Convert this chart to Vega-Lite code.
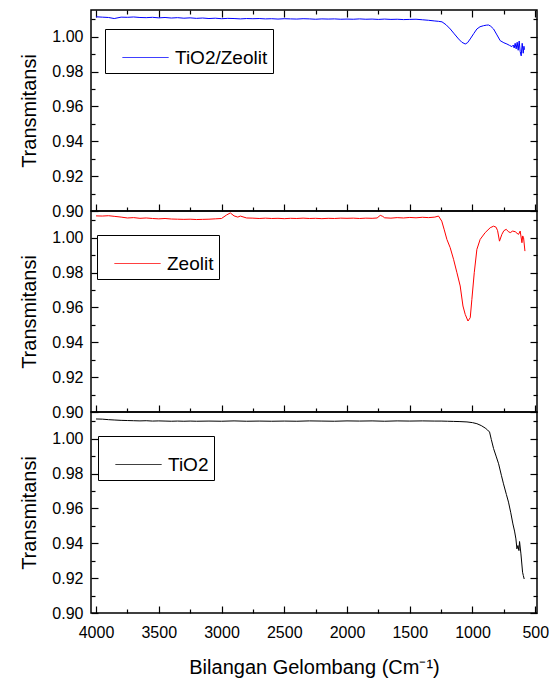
{
"$schema": "https://vega.github.io/schema/vega-lite/v6.json",
"padding": {"left": 18, "top": 8, "right": 5, "bottom": 5},
"bounds": "flush",
"spacing": 0,
"datasets": {
"a": [
{"s":"TiO2/Zeolit","w":4000,"t":1.0114},{"s":"TiO2/Zeolit","w":3950,"t":1.0112},{"s":"TiO2/Zeolit","w":3900,"t":1.0110},{"s":"TiO2/Zeolit","w":3855,"t":1.0104},{"s":"TiO2/Zeolit","w":3800,"t":1.0112},{"s":"TiO2/Zeolit","w":3750,"t":1.0111},{"s":"TiO2/Zeolit","w":3700,"t":1.0113},{"s":"TiO2/Zeolit","w":3650,"t":1.0110},{"s":"TiO2/Zeolit","w":3600,"t":1.0109},{"s":"TiO2/Zeolit","w":3550,"t":1.0111},{"s":"TiO2/Zeolit","w":3500,"t":1.0108},{"s":"TiO2/Zeolit","w":3450,"t":1.0110},{"s":"TiO2/Zeolit","w":3400,"t":1.0107},{"s":"TiO2/Zeolit","w":3350,"t":1.0109},{"s":"TiO2/Zeolit","w":3300,"t":1.0106},{"s":"TiO2/Zeolit","w":3250,"t":1.0108},{"s":"TiO2/Zeolit","w":3200,"t":1.0105},{"s":"TiO2/Zeolit","w":3150,"t":1.0107},{"s":"TiO2/Zeolit","w":3100,"t":1.0104},{"s":"TiO2/Zeolit","w":3050,"t":1.0106},{"s":"TiO2/Zeolit","w":3000,"t":1.0103},{"s":"TiO2/Zeolit","w":2950,"t":1.0105},{"s":"TiO2/Zeolit","w":2900,"t":1.0104},{"s":"TiO2/Zeolit","w":2850,"t":1.0102},{"s":"TiO2/Zeolit","w":2800,"t":1.0104},{"s":"TiO2/Zeolit","w":2750,"t":1.0103},{"s":"TiO2/Zeolit","w":2700,"t":1.0104},{"s":"TiO2/Zeolit","w":2650,"t":1.0102},{"s":"TiO2/Zeolit","w":2600,"t":1.0103},{"s":"TiO2/Zeolit","w":2550,"t":1.0101},{"s":"TiO2/Zeolit","w":2500,"t":1.0103},{"s":"TiO2/Zeolit","w":2450,"t":1.0102},{"s":"TiO2/Zeolit","w":2400,"t":1.0101},{"s":"TiO2/Zeolit","w":2350,"t":1.0103},{"s":"TiO2/Zeolit","w":2300,"t":1.0102},{"s":"TiO2/Zeolit","w":2250,"t":1.0100},{"s":"TiO2/Zeolit","w":2200,"t":1.0102},{"s":"TiO2/Zeolit","w":2150,"t":1.0101},{"s":"TiO2/Zeolit","w":2100,"t":1.0102},{"s":"TiO2/Zeolit","w":2050,"t":1.0100},{"s":"TiO2/Zeolit","w":2000,"t":1.0101},{"s":"TiO2/Zeolit","w":1950,"t":1.0100},{"s":"TiO2/Zeolit","w":1900,"t":1.0102},{"s":"TiO2/Zeolit","w":1850,"t":1.0100},{"s":"TiO2/Zeolit","w":1800,"t":1.0101},{"s":"TiO2/Zeolit","w":1750,"t":1.0099},{"s":"TiO2/Zeolit","w":1700,"t":1.0101},{"s":"TiO2/Zeolit","w":1650,"t":1.0099},{"s":"TiO2/Zeolit","w":1600,"t":1.0100},{"s":"TiO2/Zeolit","w":1550,"t":1.0098},{"s":"TiO2/Zeolit","w":1500,"t":1.0099},{"s":"TiO2/Zeolit","w":1450,"t":1.0100},{"s":"TiO2/Zeolit","w":1400,"t":1.0097},{"s":"TiO2/Zeolit","w":1350,"t":1.0094},{"s":"TiO2/Zeolit","w":1300,"t":1.0090},{"s":"TiO2/Zeolit","w":1270,"t":1.0088},{"s":"TiO2/Zeolit","w":1243,"t":1.0085},{"s":"TiO2/Zeolit","w":1210,"t":1.0068},{"s":"TiO2/Zeolit","w":1177,"t":1.0044},{"s":"TiO2/Zeolit","w":1145,"t":1.0016},{"s":"TiO2/Zeolit","w":1111,"t":0.9987},{"s":"TiO2/Zeolit","w":1085,"t":0.9968},{"s":"TiO2/Zeolit","w":1058,"t":0.9958},{"s":"TiO2/Zeolit","w":1040,"t":0.9965},{"s":"TiO2/Zeolit","w":1018,"t":0.9987},{"s":"TiO2/Zeolit","w":990,"t":1.0018},{"s":"TiO2/Zeolit","w":965,"t":1.0044},{"s":"TiO2/Zeolit","w":940,"t":1.0057},{"s":"TiO2/Zeolit","w":912,"t":1.0063},{"s":"TiO2/Zeolit","w":890,"t":1.0066},{"s":"TiO2/Zeolit","w":872,"t":1.0067},{"s":"TiO2/Zeolit","w":855,"t":1.0060},{"s":"TiO2/Zeolit","w":832,"t":1.0044},{"s":"TiO2/Zeolit","w":805,"t":1.0010},{"s":"TiO2/Zeolit","w":779,"t":0.9977},{"s":"TiO2/Zeolit","w":750,"t":0.9965},{"s":"TiO2/Zeolit","w":726,"t":0.9958},{"s":"TiO2/Zeolit","w":705,"t":0.9950},{"s":"TiO2/Zeolit","w":686,"t":0.9943},{"s":"TiO2/Zeolit","w":675,"t":0.9952},{"s":"TiO2/Zeolit","w":668,"t":0.9935},{"s":"TiO2/Zeolit","w":660,"t":0.9962},{"s":"TiO2/Zeolit","w":652,"t":0.9930},{"s":"TiO2/Zeolit","w":644,"t":0.9968},{"s":"TiO2/Zeolit","w":636,"t":0.9922},{"s":"TiO2/Zeolit","w":628,"t":0.9975},{"s":"TiO2/Zeolit","w":620,"t":0.9915},{"s":"TiO2/Zeolit","w":612,"t":0.9890},{"s":"TiO2/Zeolit","w":604,"t":0.9962},{"s":"TiO2/Zeolit","w":596,"t":0.9905},{"s":"TiO2/Zeolit","w":590,"t":0.9945},{"s":"TiO2/Zeolit","w":586,"t":0.9925}
],
"b": [
{"s":"Zeolit","w":4000,"t":1.0125},{"s":"Zeolit","w":3950,"t":1.0124},{"s":"Zeolit","w":3900,"t":1.0126},{"s":"Zeolit","w":3850,"t":1.0122},{"s":"Zeolit","w":3800,"t":1.0118},{"s":"Zeolit","w":3750,"t":1.0113},{"s":"Zeolit","w":3700,"t":1.0115},{"s":"Zeolit","w":3650,"t":1.0111},{"s":"Zeolit","w":3600,"t":1.0113},{"s":"Zeolit","w":3550,"t":1.0110},{"s":"Zeolit","w":3500,"t":1.0108},{"s":"Zeolit","w":3450,"t":1.0110},{"s":"Zeolit","w":3400,"t":1.0107},{"s":"Zeolit","w":3350,"t":1.0106},{"s":"Zeolit","w":3300,"t":1.0105},{"s":"Zeolit","w":3250,"t":1.0106},{"s":"Zeolit","w":3200,"t":1.0104},{"s":"Zeolit","w":3150,"t":1.0105},{"s":"Zeolit","w":3100,"t":1.0106},{"s":"Zeolit","w":3050,"t":1.0108},{"s":"Zeolit","w":3000,"t":1.0110},{"s":"Zeolit","w":2960,"t":1.0130},{"s":"Zeolit","w":2930,"t":1.0142},{"s":"Zeolit","w":2900,"t":1.0125},{"s":"Zeolit","w":2870,"t":1.0118},{"s":"Zeolit","w":2850,"t":1.0124},{"s":"Zeolit","w":2800,"t":1.0113},{"s":"Zeolit","w":2750,"t":1.0112},{"s":"Zeolit","w":2700,"t":1.0110},{"s":"Zeolit","w":2650,"t":1.0112},{"s":"Zeolit","w":2600,"t":1.0110},{"s":"Zeolit","w":2550,"t":1.0111},{"s":"Zeolit","w":2500,"t":1.0109},{"s":"Zeolit","w":2450,"t":1.0111},{"s":"Zeolit","w":2400,"t":1.0110},{"s":"Zeolit","w":2350,"t":1.0112},{"s":"Zeolit","w":2300,"t":1.0110},{"s":"Zeolit","w":2250,"t":1.0111},{"s":"Zeolit","w":2200,"t":1.0109},{"s":"Zeolit","w":2150,"t":1.0111},{"s":"Zeolit","w":2100,"t":1.0110},{"s":"Zeolit","w":2050,"t":1.0112},{"s":"Zeolit","w":2000,"t":1.0111},{"s":"Zeolit","w":1950,"t":1.0112},{"s":"Zeolit","w":1900,"t":1.0110},{"s":"Zeolit","w":1850,"t":1.0112},{"s":"Zeolit","w":1800,"t":1.0111},{"s":"Zeolit","w":1760,"t":1.0113},{"s":"Zeolit","w":1735,"t":1.0128},{"s":"Zeolit","w":1715,"t":1.0122},{"s":"Zeolit","w":1700,"t":1.0114},{"s":"Zeolit","w":1650,"t":1.0112},{"s":"Zeolit","w":1600,"t":1.0115},{"s":"Zeolit","w":1550,"t":1.0113},{"s":"Zeolit","w":1500,"t":1.0116},{"s":"Zeolit","w":1450,"t":1.0114},{"s":"Zeolit","w":1400,"t":1.0117},{"s":"Zeolit","w":1350,"t":1.0115},{"s":"Zeolit","w":1300,"t":1.0118},{"s":"Zeolit","w":1271,"t":1.0124},{"s":"Zeolit","w":1245,"t":1.0095},{"s":"Zeolit","w":1225,"t":1.0045},{"s":"Zeolit","w":1204,"t":0.9990},{"s":"Zeolit","w":1178,"t":0.9943},{"s":"Zeolit","w":1151,"t":0.9876},{"s":"Zeolit","w":1124,"t":0.9799},{"s":"Zeolit","w":1098,"t":0.9723},{"s":"Zeolit","w":1076,"t":0.9608},{"s":"Zeolit","w":1058,"t":0.9560},{"s":"Zeolit","w":1036,"t":0.9522},{"s":"Zeolit","w":1018,"t":0.9541},{"s":"Zeolit","w":1005,"t":0.9646},{"s":"Zeolit","w":986,"t":0.9799},{"s":"Zeolit","w":965,"t":0.9933},{"s":"Zeolit","w":939,"t":0.9990},{"s":"Zeolit","w":899,"t":1.0029},{"s":"Zeolit","w":859,"t":1.0057},{"s":"Zeolit","w":832,"t":1.0066},{"s":"Zeolit","w":812,"t":1.0060},{"s":"Zeolit","w":800,"t":1.0040},{"s":"Zeolit","w":785,"t":0.9980},{"s":"Zeolit","w":766,"t":1.0019},{"s":"Zeolit","w":750,"t":1.0040},{"s":"Zeolit","w":731,"t":1.0048},{"s":"Zeolit","w":715,"t":1.0035},{"s":"Zeolit","w":699,"t":1.0029},{"s":"Zeolit","w":680,"t":1.0038},{"s":"Zeolit","w":659,"t":1.0034},{"s":"Zeolit","w":645,"t":1.0025},{"s":"Zeolit","w":633,"t":1.0019},{"s":"Zeolit","w":620,"t":1.0038},{"s":"Zeolit","w":606,"t":0.9971},{"s":"Zeolit","w":600,"t":1.0010},{"s":"Zeolit","w":593,"t":1.0000},{"s":"Zeolit","w":582,"t":0.9923}
],
"c": [
{"s":"TiO2","w":4000,"t":1.0113},{"s":"TiO2","w":3950,"t":1.0112},{"s":"TiO2","w":3900,"t":1.0109},{"s":"TiO2","w":3850,"t":1.0107},{"s":"TiO2","w":3800,"t":1.0105},{"s":"TiO2","w":3750,"t":1.0104},{"s":"TiO2","w":3700,"t":1.0103},{"s":"TiO2","w":3650,"t":1.0102},{"s":"TiO2","w":3600,"t":1.0103},{"s":"TiO2","w":3550,"t":1.0101},{"s":"TiO2","w":3500,"t":1.0102},{"s":"TiO2","w":3450,"t":1.0101},{"s":"TiO2","w":3400,"t":1.0100},{"s":"TiO2","w":3350,"t":1.0101},{"s":"TiO2","w":3300,"t":1.0100},{"s":"TiO2","w":3250,"t":1.0101},{"s":"TiO2","w":3200,"t":1.0100},{"s":"TiO2","w":3100,"t":1.0101},{"s":"TiO2","w":3000,"t":1.0100},{"s":"TiO2","w":2900,"t":1.0102},{"s":"TiO2","w":2800,"t":1.0100},{"s":"TiO2","w":2700,"t":1.0101},{"s":"TiO2","w":2600,"t":1.0100},{"s":"TiO2","w":2500,"t":1.0101},{"s":"TiO2","w":2400,"t":1.0100},{"s":"TiO2","w":2300,"t":1.0102},{"s":"TiO2","w":2200,"t":1.0101},{"s":"TiO2","w":2100,"t":1.0100},{"s":"TiO2","w":2000,"t":1.0102},{"s":"TiO2","w":1900,"t":1.0101},{"s":"TiO2","w":1800,"t":1.0102},{"s":"TiO2","w":1700,"t":1.0100},{"s":"TiO2","w":1600,"t":1.0102},{"s":"TiO2","w":1500,"t":1.0101},{"s":"TiO2","w":1400,"t":1.0102},{"s":"TiO2","w":1300,"t":1.0101},{"s":"TiO2","w":1250,"t":1.0101},{"s":"TiO2","w":1200,"t":1.0100},{"s":"TiO2","w":1150,"t":1.0099},{"s":"TiO2","w":1100,"t":1.0098},{"s":"TiO2","w":1044,"t":1.0096},{"s":"TiO2","w":1000,"t":1.0092},{"s":"TiO2","w":965,"t":1.0086},{"s":"TiO2","w":930,"t":1.0075},{"s":"TiO2","w":899,"t":1.0061},{"s":"TiO2","w":880,"t":1.0050},{"s":"TiO2","w":864,"t":1.0038},{"s":"TiO2","w":850,"t":0.9995},{"s":"TiO2","w":832,"t":0.9943},{"s":"TiO2","w":812,"t":0.9900},{"s":"TiO2","w":792,"t":0.9856},{"s":"TiO2","w":770,"t":0.9790},{"s":"TiO2","w":753,"t":0.9741},{"s":"TiO2","w":730,"t":0.9680},{"s":"TiO2","w":713,"t":0.9636},{"s":"TiO2","w":695,"t":0.9575},{"s":"TiO2","w":678,"t":0.9511},{"s":"TiO2","w":665,"t":0.9470},{"s":"TiO2","w":654,"t":0.9425},{"s":"TiO2","w":646,"t":0.9368},{"s":"TiO2","w":638,"t":0.9387},{"s":"TiO2","w":630,"t":0.9358},{"s":"TiO2","w":625,"t":0.9410},{"s":"TiO2","w":614,"t":0.9339},{"s":"TiO2","w":601,"t":0.9234},{"s":"TiO2","w":595,"t":0.9215},{"s":"TiO2","w":588,"t":0.9195}
]
},
"vconcat": [
{
"width": 446, "height": 201,
"data": {"name": "a"},
"layer": [
{"mark": {"type": "line", "strokeWidth": 1},
 "encoding": {
  "x": {"field": "w", "type": "quantitative", "scale": {"domain": [4040, 486], "nice": false, "zero": false},
        "axis": {"orient": "bottom", "values": [4000,3750,3500,3250,3000,2750,2500,2250,2000,1750,1500,1250,1000,750,500], "labels": false, "title": null,
                 "tickDash": {"condition": {"test": "datum.value % 500 == 0", "value": [7, 0]}, "value": [4, 20]}}},
  "y": {"field": "t", "type": "quantitative", "scale": {"domain": [0.9, 1.0153], "nice": false, "zero": false},
        "axis": {"orient": "left", "values": [0.9,0.91,0.92,0.93,0.94,0.95,0.96,0.97,0.98,0.99,1.0,1.01],
                 "labelExpr": "round(datum.value*100)%2==0 ? format(datum.value,'.2f') : ''",
                 "tickDash": {"condition": {"test": "round(datum.value*100)%2==0", "value": [7, 0]}, "value": [4, 20]},
                 "labelPadding": 15, "title": "Transmitansi", "titleX": -56, "titleBaseline": "alphabetic"}},
  "color": {"field": "s", "type": "nominal", "scale": {"range": ["#0000ff"]},
            "legend": {"orient": "none", "legendX": 14, "legendY": 19,
                       "encode": {"symbols": {"update": {"stroke": {"value": "#0000ff"}, "strokeOpacity": {"value": 1}, "strokeDash": {"value": [1, 0]}}}}}}
 }},
{"mark": {"type": "line", "strokeOpacity": 0},
 "encoding": {
  "x": {"field": "w", "type": "quantitative", "scale": {"domain": [4040, 486], "nice": false, "zero": false},
        "axis": {"orient": "top", "values": [4000,3750,3500,3250,3000,2750,2500,2250,2000,1750,1500,1250,1000,750,500], "labels": false, "title": null,
                 "tickDash": {"condition": {"test": "datum.value % 500 == 0", "value": [7, 0]}, "value": [4, 20]}}},
  "y": {"field": "t", "type": "quantitative", "scale": {"domain": [0.9, 1.0153], "nice": false, "zero": false},
        "axis": {"orient": "right", "values": [0.9,0.91,0.92,0.93,0.94,0.95,0.96,0.97,0.98,0.99,1.0,1.01], "labels": false, "title": null,
                 "tickDash": {"condition": {"test": "round(datum.value*100)%2==0", "value": [7, 0]}, "value": [4, 20]}}}
 }}
],
"resolve": {"axis": {"x": "independent", "y": "independent"}}
},
{
"width": 446, "height": 201,
"data": {"name": "b"},
"layer": [
{"mark": {"type": "line", "strokeWidth": 1},
 "encoding": {
  "x": {"field": "w", "type": "quantitative", "scale": {"domain": [4040, 486], "nice": false, "zero": false},
        "axis": {"orient": "bottom", "values": [4000,3750,3500,3250,3000,2750,2500,2250,2000,1750,1500,1250,1000,750,500], "labels": false, "title": null,
                 "tickDash": {"condition": {"test": "datum.value % 500 == 0", "value": [7, 0]}, "value": [4, 20]}}},
  "y": {"field": "t", "type": "quantitative", "scale": {"domain": [0.9, 1.0153], "nice": false, "zero": false},
        "axis": {"orient": "left", "values": [0.9,0.91,0.92,0.93,0.94,0.95,0.96,0.97,0.98,0.99,1.0,1.01],
                 "labelExpr": "round(datum.value*100)%2==0 ? format(datum.value,'.2f') : ''",
                 "tickDash": {"condition": {"test": "round(datum.value*100)%2==0", "value": [7, 0]}, "value": [4, 20]},
                 "labelPadding": 15, "title": "Transmitansi", "titleX": -56, "titleBaseline": "alphabetic"}},
  "color": {"field": "s", "type": "nominal", "scale": {"range": ["#ff0000"]},
            "legend": {"orient": "none", "legendX": 6, "legendY": 24,
                       "encode": {"symbols": {"update": {"stroke": {"value": "#ff0000"}, "strokeOpacity": {"value": 1}, "strokeDash": {"value": [1, 0]}}}}}}
 }},
{"mark": {"type": "line", "strokeOpacity": 0},
 "encoding": {
  "x": {"field": "w", "type": "quantitative", "scale": {"domain": [4040, 486], "nice": false, "zero": false}, "axis": null},
  "y": {"field": "t", "type": "quantitative", "scale": {"domain": [0.9, 1.0153], "nice": false, "zero": false},
        "axis": {"orient": "right", "values": [0.9,0.91,0.92,0.93,0.94,0.95,0.96,0.97,0.98,0.99,1.0,1.01], "labels": false, "title": null,
                 "tickDash": {"condition": {"test": "round(datum.value*100)%2==0", "value": [7, 0]}, "value": [4, 20]}}}
 }}
],
"resolve": {"axis": {"x": "independent", "y": "independent"}}
},
{
"width": 446, "height": 201,
"data": {"name": "c"},
"layer": [
{"mark": {"type": "line", "strokeWidth": 1},
 "encoding": {
  "x": {"field": "w", "type": "quantitative", "scale": {"domain": [4040, 486], "nice": false, "zero": false},
        "axis": {"orient": "bottom", "values": [4000,3750,3500,3250,3000,2750,2500,2250,2000,1750,1500,1250,1000,750,500],
                 "labelExpr": "datum.value % 500 == 0 ? datum.value : ''",
                 "tickDash": {"condition": {"test": "datum.value % 500 == 0", "value": [7, 0]}, "value": [4, 20]},
                 "labelPadding": 18, "title": "Bilangan Gelombang (Cm⁻¹)", "titleY": 60, "titleBaseline": "alphabetic"}},
  "y": {"field": "t", "type": "quantitative", "scale": {"domain": [0.9, 1.0153], "nice": false, "zero": false},
        "axis": {"orient": "left", "values": [0.9,0.91,0.92,0.93,0.94,0.95,0.96,0.97,0.98,0.99,1.0,1.01],
                 "labelExpr": "round(datum.value*100)%2==0 ? format(datum.value,'.2f') : ''",
                 "tickDash": {"condition": {"test": "round(datum.value*100)%2==0", "value": [7, 0]}, "value": [4, 20]},
                 "labelPadding": 15, "title": "Transmitansi", "titleX": -56, "titleBaseline": "alphabetic"}},
  "color": {"field": "s", "type": "nominal", "scale": {"range": ["#000000"]},
            "legend": {"orient": "none", "legendX": 7, "legendY": 24,
                       "encode": {"symbols": {"update": {"stroke": {"value": "#000000"}, "strokeOpacity": {"value": 1}, "strokeDash": {"value": [1, 0]}}}}}}
 }},
{"mark": {"type": "line", "strokeOpacity": 0},
 "encoding": {
  "x": {"field": "w", "type": "quantitative", "scale": {"domain": [4040, 486], "nice": false, "zero": false}, "axis": null},
  "y": {"field": "t", "type": "quantitative", "scale": {"domain": [0.9, 1.0153], "nice": false, "zero": false},
        "axis": {"orient": "right", "values": [0.9,0.91,0.92,0.93,0.94,0.95,0.96,0.97,0.98,0.99,1.0,1.01], "labels": false, "title": null,
                 "tickDash": {"condition": {"test": "round(datum.value*100)%2==0", "value": [7, 0]}, "value": [4, 20]}}}
 }}
],
"resolve": {"axis": {"x": "independent", "y": "independent"}}
}
],
"resolve": {"scale": {"color": "independent"}, "legend": {"color": "independent"}},
"config": {
 "font": "Liberation Sans",
 "background": "white",
 "view": {"stroke": "black", "strokeWidth": 1.5},
 "axis": {"domain": false, "grid": false, "ticks": true, "tickSize": -7, "tickColor": "black", "tickWidth": 1.2, "labelColor": "black", "titleColor": "black",
          "labelFont": "Liberation Sans", "titleFont": "Liberation Sans", "titleFontWeight": "normal",
          "labelFontSize": 16, "titleFontSize": 20, "labelFlush": false, "labelOverlap": false},
 "legend": {"title": null, "symbolType": "stroke", "symbolSize": 2116, "symbolStrokeWidth": 1, "labelFontSize": 19,
            "labelFont": "Liberation Sans", "labelColor": "black", "strokeColor": "black", "fillColor": "white",
            "padding": 5, "symbolOffset": 12, "labelOffset": 6}
}
}
